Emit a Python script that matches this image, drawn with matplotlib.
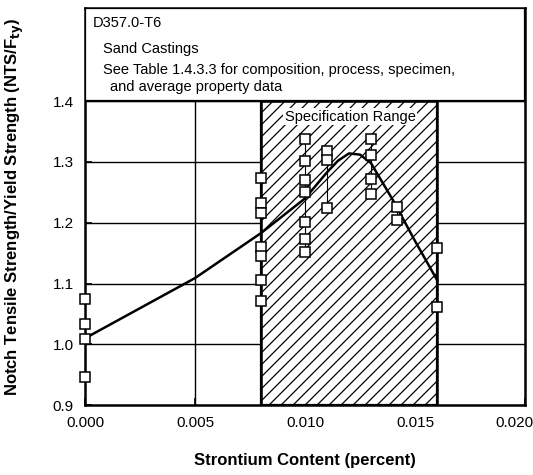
import numpy as np
import matplotlib
matplotlib.use("Agg")
import matplotlib.pyplot as plt
from matplotlib.patches import Rectangle
from matplotlib.transforms import ScaledTranslation

plt.rcParams['font.family'] = ['Liberation Sans', 'DejaVu Sans']

# Measured notch-yield ratios, grouped by strontium content
sr_levels = [0.0, 0.008, 0.010, 0.011, 0.013, 0.0142, 0.016]
ratios = [
    [1.074, 1.034, 1.009, 0.947],
    [1.273, 1.233, 1.216, 1.160, 1.146, 1.106, 1.071],
    [1.337, 1.301, 1.271, 1.250, 1.202, 1.174, 1.152],
    [1.318, 1.303, 1.224],
    [1.337, 1.312, 1.272, 1.248],
    [1.226, 1.204],
    [1.159, 1.061],
]

# Trend curve
curve_x = [0.0, 0.005, 0.008, 0.010, 0.011, 0.0115, 0.012, 0.0125, 0.013, 0.014, 0.015, 0.016]
curve_y = [1.010, 1.109, 1.183, 1.240, 1.283, 1.302, 1.314, 1.312, 1.298, 1.237, 1.170, 1.106]

spec_lo, spec_hi = 0.008, 0.016
yticks = [0.9, 1.0, 1.1, 1.2, 1.3, 1.4]
xticks = [0.000, 0.005, 0.010, 0.015, 0.020]

fig = plt.figure(figsize=(5.33, 4.75), dpi=100)
ax = fig.add_axes([0.1595, 0.147, 0.8255, 0.836])
ax.set_xlim(0, 0.020)
ax.set_ylim(0.9, 1.553)

# grid
for y in yticks[1:]:
    ax.axhline(y, color='black', lw=1.0, zorder=1)
for x in xticks[1:-1]:
    ax.plot([x, x], [0.9, 1.4], color='black', lw=1.0, zorder=1)

# specification band with 45-degree hatching (spacing set in inches)
band = Rectangle((spec_lo, 0.9), spec_hi - spec_lo, 0.5, facecolor='white',
                 edgecolor='black', lw=1.6, zorder=2)
ax.add_patch(band)
(x0, y0), (x1, y1) = ax.transData.transform([(spec_lo, 0.9), (spec_hi, 1.4)])
x0, x1, y0, y1 = [v / fig.dpi for v in (x0, x1, y0, y1)]
step = 0.12
for c in np.arange(x0 - (y1 - y0), x1 + step, step):
    ln, = ax.plot([c, c + (y1 - y0)], [y0, y1], color='black', lw=0.9,
                  transform=fig.dpi_scale_trans, zorder=2.1)
    ln.set_clip_path(band)
ax.add_patch(Rectangle((spec_lo, 0.9), spec_hi - spec_lo, 0.5, facecolor='none',
                       edgecolor='black', lw=1.8, zorder=2.2))
ax.text((spec_lo + spec_hi) / 2 + 0.00005, 1.374, 'Specification Range', ha='center', va='center',
        fontsize=10.5, zorder=3, bbox=dict(facecolor='white', edgecolor='none', pad=1))

# scatter columns
for x, vals in zip(sr_levels, ratios):
    ax.plot([x, x], [min(vals), max(vals)], color='black', lw=0.8, zorder=3)
    ax.plot([x] * len(vals), vals, 's', ms=6.5, mfc='white', mec='black', mew=1.1,
            zorder=5, clip_on=False)

ax.plot(curve_x, curve_y, color='black', lw=1.8, zorder=4)

# header box
ax.add_patch(Rectangle((0, 1.4), 0.020, 0.153, facecolor='white', edgecolor='black',
                       lw=1.6, zorder=6))
ax.text(0.00036, 1.528, 'D357.0-T6', fontsize=10.5, va='center', zorder=7)
ax.text(0.0008, 1.486, 'Sand Castings', fontsize=10.5, va='center', zorder=7)
ax.text(0.0008, 1.451, 'See Table 1.4.3.3 for composition, process, specimen,',
        fontsize=10.5, va='center', zorder=7)
ax.text(0.00115, 1.423, 'and average property data', fontsize=10.5, va='center', zorder=7)

ax.set_xticks(xticks)
ax.set_xticklabels(['%.3f' % v for v in xticks], fontsize=11)
ax.set_yticks(yticks)
ax.set_yticklabels(['%.1f' % v for v in yticks], fontsize=11)
ax.tick_params(direction='in', length=5, width=1.2, top=False, right=False)
ax.tick_params(axis='x', pad=8)
ax.tick_params(axis='y', pad=8)
for s in ax.spines.values():
    s.set_linewidth(1.8)

# pull the last x label in so it stays on the canvas
last = ax.get_xticklabels()[-1]
last.set_transform(last.get_transform() + ScaledTranslation(-0.11, 0, fig.dpi_scale_trans))

ax.set_xlabel('Strontium Content (percent)', fontsize=12, fontweight='bold')
ax.xaxis.set_label_coords(0.5, -0.12)
ax.set_ylabel('Notch Tensile Strength/Yield Strength (NTS/F$_{\\mathbf{ty}}$)', fontsize=12,
              fontweight='bold')
ax.yaxis.set_label_coords(-0.135, 0.5)

fig.savefig('out.png', dpi=100)
